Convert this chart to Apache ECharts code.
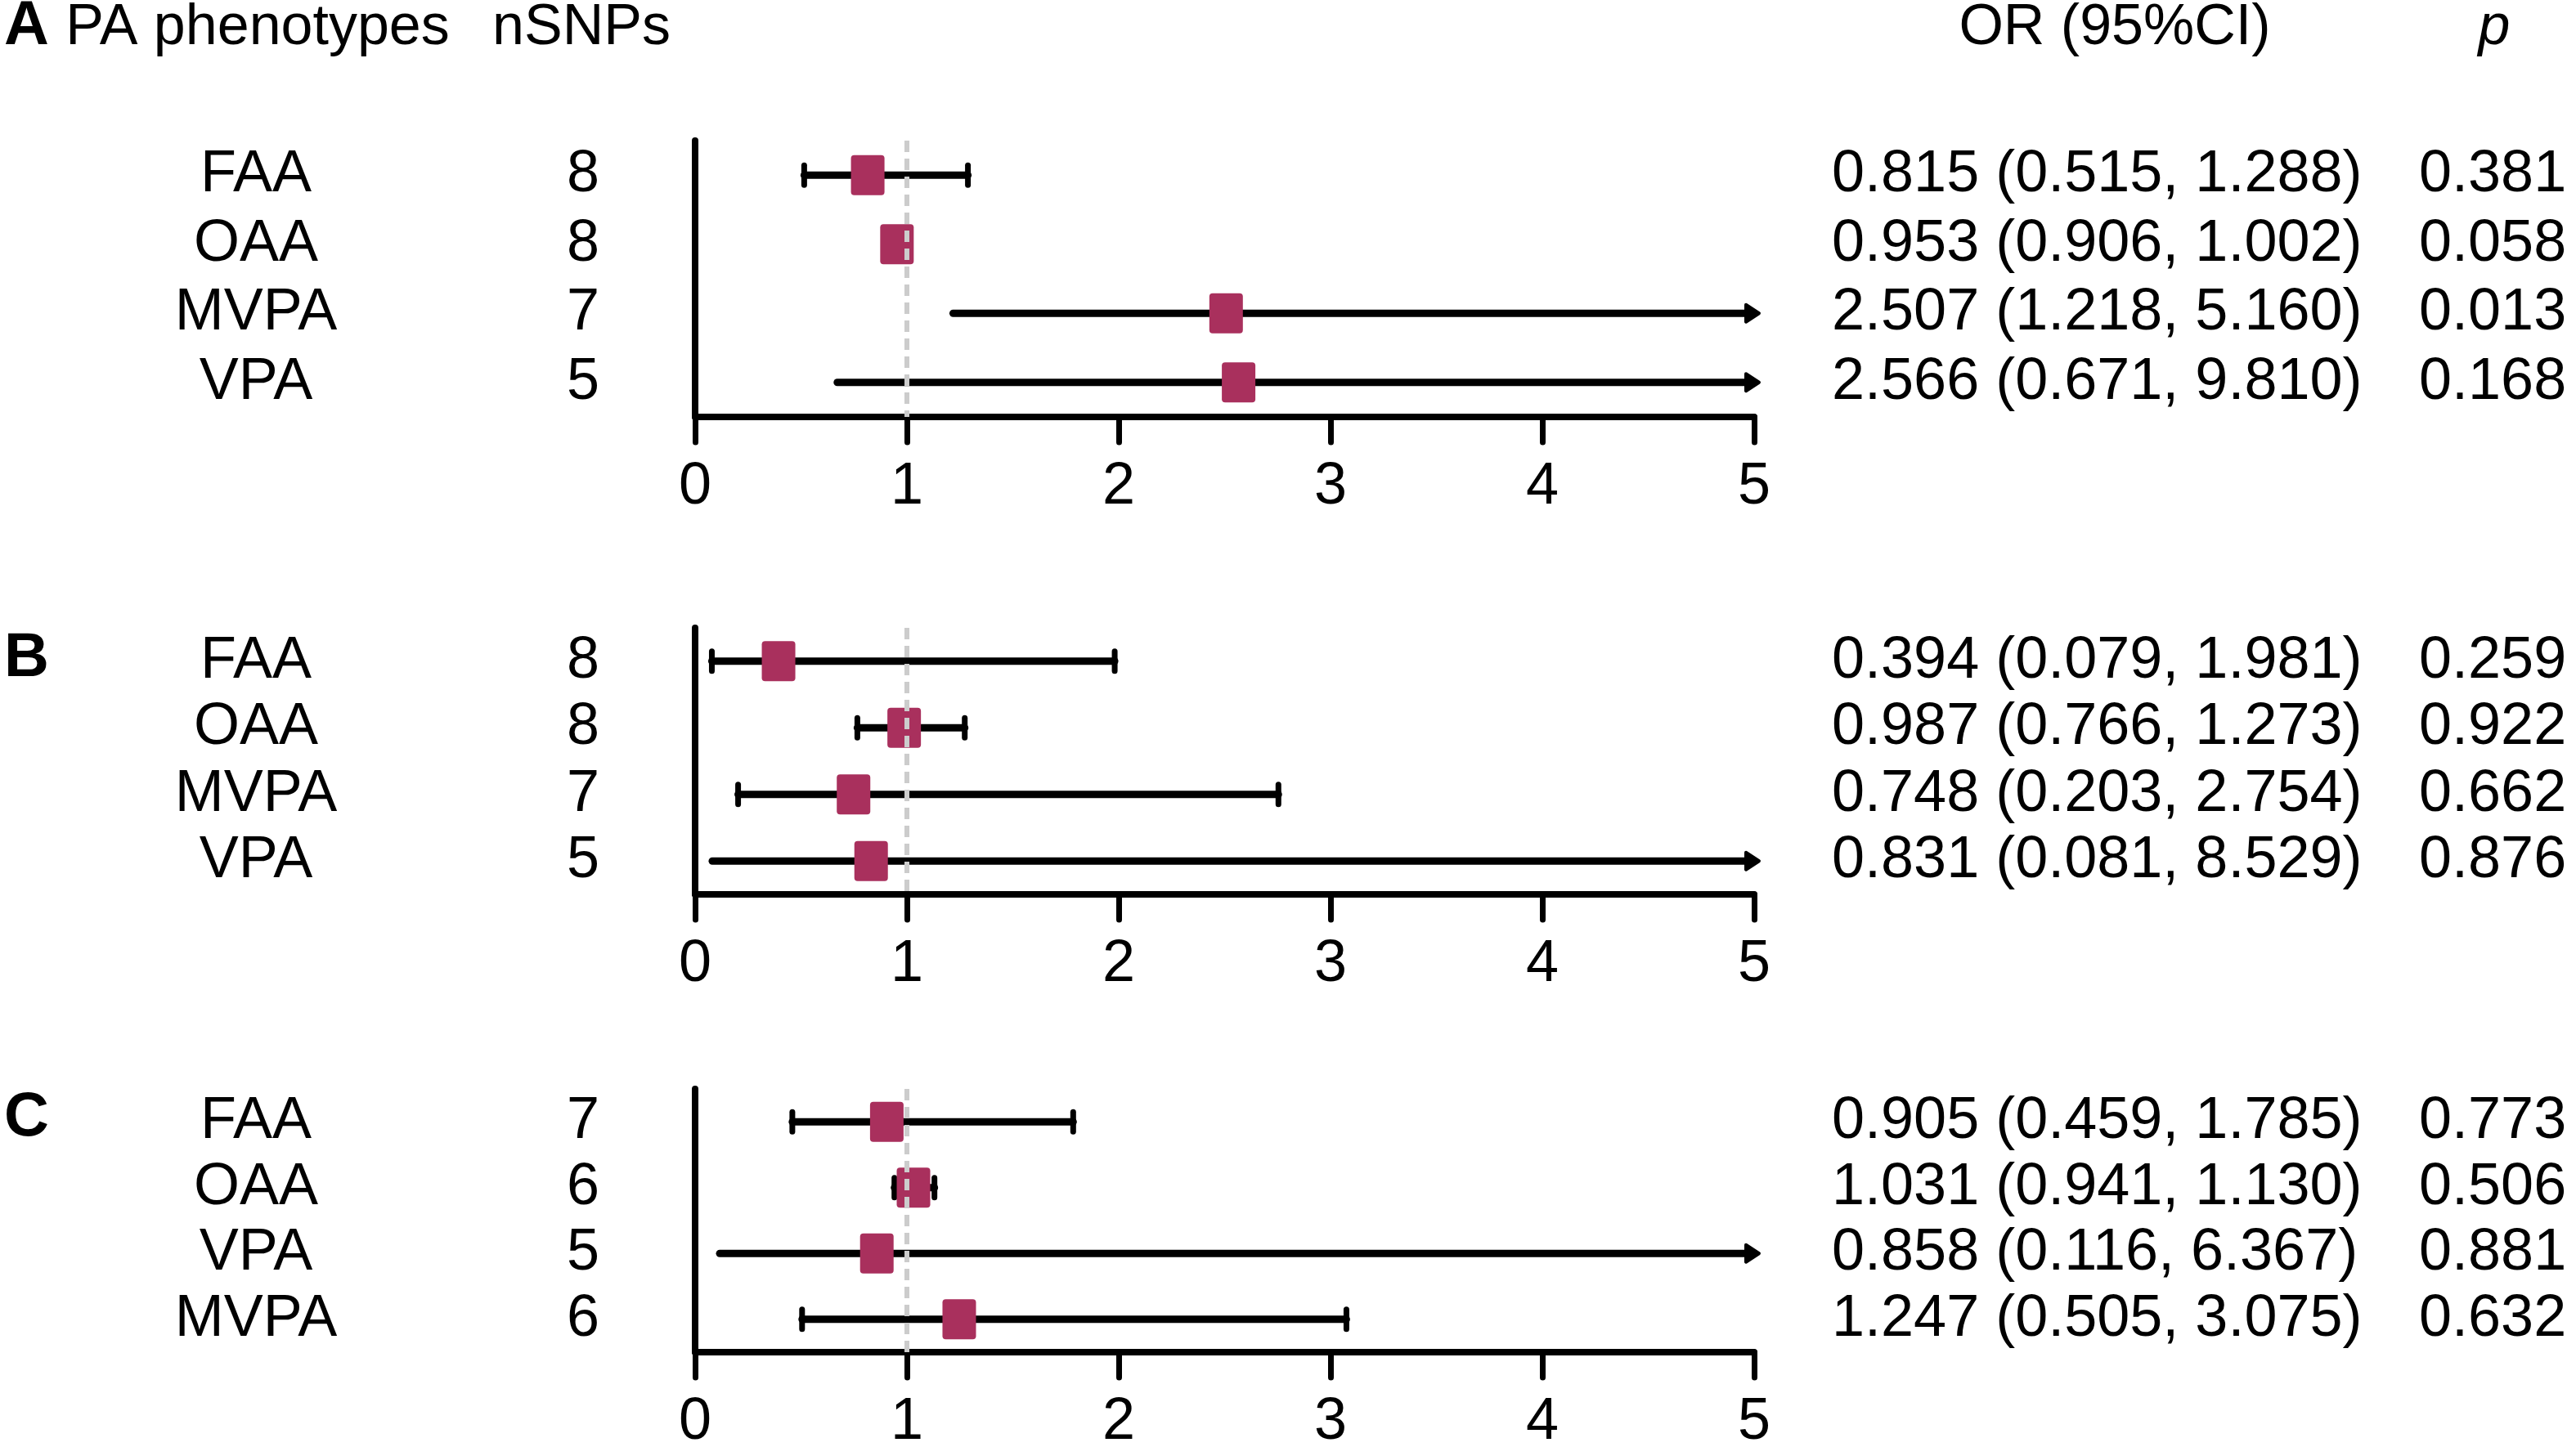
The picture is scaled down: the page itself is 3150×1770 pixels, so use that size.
<!DOCTYPE html>
<html>
<head>
<meta charset="utf-8">
<script src="https://cdn.jsdelivr.net/npm/echarts@6/dist/echarts.min.js"></script>
<style>
  html, body { margin: 0; padding: 0; background: #fff; }
  #chart { width: 3150px; height: 1770px; }
</style>
</head>
<body>
<div id="chart"></div>
<script>
// ---- data ----
const xTicks = [0, 1, 2, 3, 4, 5];

const namesA = ['FAA', 'OAA', 'MVPA', 'VPA'];
const nsnpA = [8, 8, 7, 5];
const orA = [0.815, 0.953, 2.507, 2.566];
const loA = [0.515, 0.906, 1.218, 0.671];
const hiA = [1.288, 1.002, 5.160, 9.810];
const pA = ['0.381', '0.058', '0.013', '0.168'];

const namesB = ['FAA', 'OAA', 'MVPA', 'VPA'];
const nsnpB = [8, 8, 7, 5];
const orB = [0.394, 0.987, 0.748, 0.831];
const loB = [0.079, 0.766, 0.203, 0.081];
const hiB = [1.981, 1.273, 2.754, 8.529];
const pB = ['0.259', '0.922', '0.662', '0.876'];

const namesC = ['FAA', 'OAA', 'VPA', 'MVPA'];
const nsnpC = [7, 6, 5, 6];
const orC = [0.905, 1.031, 0.858, 1.247];
const loC = [0.459, 0.941, 0.116, 0.505];
const hiC = [1.785, 1.130, 6.367, 3.075];
const pC = ['0.773', '0.506', '0.881', '0.632'];

const panels = [
  { names: namesA, nsnp: nsnpA, or: orA, lo: loA, hi: hiA, p: pA },
  { names: namesB, nsnp: nsnpB, or: orB, lo: loB, hi: hiB, p: pB },
  { names: namesC, nsnp: nsnpC, or: orC, lo: loC, hi: hiC, p: pC }
];

// ---- layout ----
const FONT = "'Liberation Sans', Arial, sans-serif";
const gridLeft = 850, gridWidth = 1295;
const layout = [
  { top: 172, height: 338 },
  { top: 768, height: 326 },
  { top: 1332, height: 322 }
];
const xMin = xTicks[0], xMax = xTicks[xTicks.length - 1];
const boxColor = '#a9305d';

const grid = [], xAxis = [], yAxis = [], series = [];

panels.forEach((pn, i) => {
  grid.push({
    left: gridLeft, width: gridWidth, top: layout[i].top, height: layout[i].height,
    outerBoundsMode: 'none', containLabel: false
  });

  xAxis.push({
    type: 'value', gridIndex: i, min: xMin, max: xMax, interval: 1,
    axisLine: { show: true, lineStyle: { color: '#000', width: 8, cap: 'round' } },
    axisTick: { show: true, length: 31, lineStyle: { color: '#000', width: 7, cap: 'round' } },
    axisLabel: { fontSize: 72, color: '#000', fontFamily: FONT, margin: 50 },
    splitLine: { show: false }
  });

  const orText = pn.or.map((v, k) =>
    v.toFixed(3) + ' (' + pn.lo[k].toFixed(3) + ', ' + pn.hi[k].toFixed(3) + ')');

  const baseY = {
    type: 'category', gridIndex: i, inverse: true,
    axisTick: { show: false }, splitLine: { show: false }
  };
  const lbl = { fontSize: 72, color: '#000', fontFamily: FONT, interval: 0 };
  // phenotype names (this one also draws the vertical axis line)
  yAxis.push(Object.assign({}, baseY, {
    position: 'left', data: pn.names,
    axisLine: { show: true, onZero: false, lineStyle: { color: '#000', width: 8, cap: 'round' } },
    axisLabel: Object.assign({ align: 'center', margin: gridLeft - 313 }, lbl)
  }));
  // nSNPs
  yAxis.push(Object.assign({}, baseY, {
    position: 'left', data: pn.nsnp.map(String),
    axisLine: { show: false },
    axisLabel: Object.assign({ align: 'center', margin: gridLeft - 713 }, lbl)
  }));
  // OR (95%CI)
  yAxis.push(Object.assign({}, baseY, {
    position: 'right', data: orText,
    axisLine: { show: false },
    axisLabel: Object.assign({ align: 'left', margin: 95 }, lbl)
  }));
  // p
  yAxis.push(Object.assign({}, baseY, {
    position: 'right', data: pn.p,
    axisLine: { show: false },
    axisLabel: Object.assign({ align: 'left', margin: 813 }, lbl)
  }));

  const yIdx = i * 4;

  // reference line at OR = 1
  series.push({
    type: 'line', xAxisIndex: i, yAxisIndex: yIdx, data: [], z: 1, silent: true,
    markLine: {
      silent: true, symbol: 'none', label: { show: false },
      lineStyle: { color: '#cccccc', type: [14, 8], width: 6 },
      data: [{ xAxis: 1 }]
    }
  });

  // confidence intervals
  series.push({
    type: 'custom', xAxisIndex: i, yAxisIndex: yIdx, z: 2, clip: false, silent: true,
    data: pn.or.map((v, k) => [k, v, pn.lo[k], pn.hi[k]]),
    encode: { x: [1, 2, 3], y: 0 },
    renderItem: function (params, api) {
      const k = api.value(0), lo = api.value(2), hi = api.value(3);
      const y = api.coord([xMin, k])[1];
      const xLo = api.coord([lo, k])[0];
      const arrow = hi > xMax;
      const xHi = api.coord([Math.min(hi, xMax), k])[0];
      const children = [{
        type: 'line',
        shape: { x1: xLo, y1: y, x2: arrow ? xHi - 6 : xHi, y2: y },
        style: { stroke: '#000', lineWidth: 9, lineCap: 'round' }
      }];
      if (arrow) {
        children.push({
          type: 'polygon',
          shape: { points: [[xHi - 10, y - 10.5], [xHi + 6, y], [xHi - 10, y + 10.5]] },
          style: { fill: '#000', stroke: '#000', lineWidth: 4, lineJoin: 'round' }
        });
      } else {
        [xLo, xHi].forEach(x => children.push({
          type: 'line',
          shape: { x1: x, y1: y - 12, x2: x, y2: y + 12 },
          style: { stroke: '#000', lineWidth: 7, lineCap: 'round' }
        }));
      }
      return { type: 'group', children: children };
    }
  });

  // point estimates
  series.push({
    type: 'scatter', xAxisIndex: i, yAxisIndex: yIdx, z: 3, silent: true,
    symbol: 'path://M4,0 H37 Q41,0 41,4 V45 Q41,49 37,49 H4 Q0,49 0,45 V4 Q0,0 4,0 Z',
    symbolSize: [41, 49],
    itemStyle: { color: boxColor, opacity: 1 },
    data: pn.or.map((v, k) => [v, k])
  });
});

const headFont = (size, weight, style) =>
  (style || 'normal') + ' ' + (weight || 'normal') + ' ' + size + 'px ' + FONT;

const headText = (text, x, y, font, align) => ({
  type: 'text', x: x, y: y, silent: true,
  style: { text: text, font: font, fill: '#000', textAlign: align, textVerticalAlign: 'middle' }
});

const graphic = [
  headText('A', 5, 33, headFont(76, 'bold'), 'left'),
  headText('PA phenotypes', 315, 35, headFont(70), 'center'),
  headText('nSNPs', 711, 35, headFont(70), 'center'),
  headText('OR (95%CI)', 2586, 35, headFont(70), 'center'),
  headText('p', 3050, 35, headFont(70, 'normal', 'italic'), 'center'),
  headText('B', 5, 806, headFont(76, 'bold'), 'left'),
  headText('C', 5, 1368, headFont(76, 'bold'), 'left')
];

const chart = echarts.init(document.getElementById('chart'), null, { renderer: 'canvas' });
chart.setOption({
  backgroundColor: '#fff',
  animation: false,
  textStyle: { fontFamily: FONT },
  grid: grid,
  xAxis: xAxis,
  yAxis: yAxis,
  series: series,
  graphic: graphic
});
</script>
</body>
</html>
